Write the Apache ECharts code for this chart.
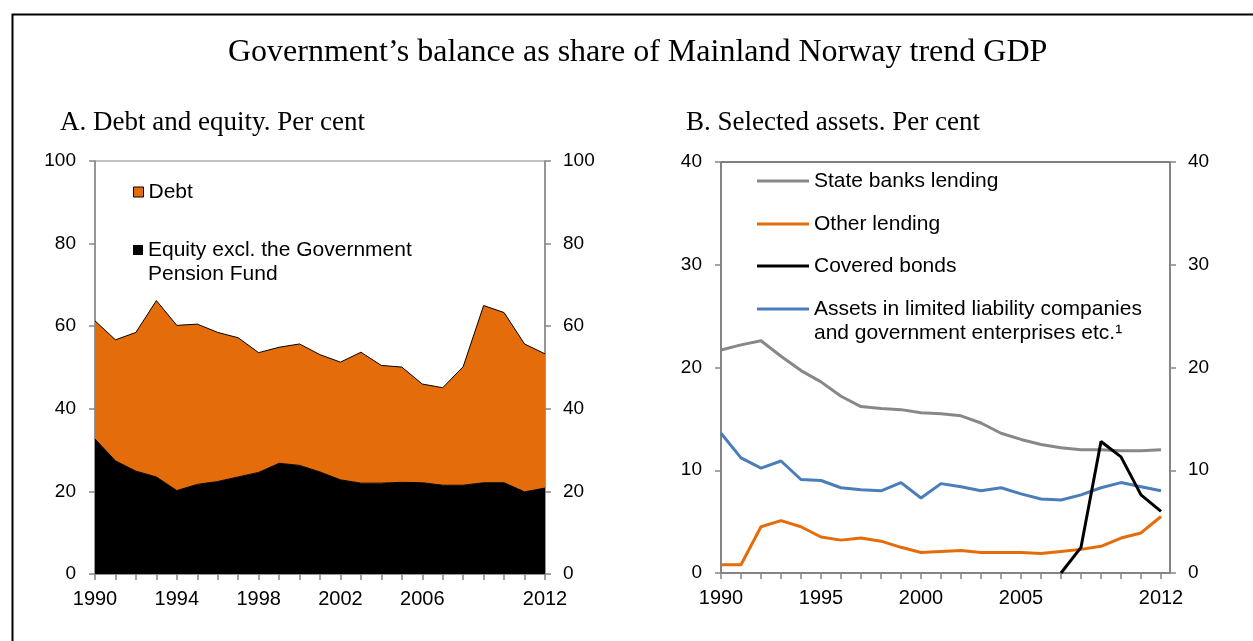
<!DOCTYPE html>
<html>
<head>
<meta charset="utf-8">
<title>Government's balance</title>
<script src="https://cdn.jsdelivr.net/npm/echarts@6/dist/echarts.min.js"></script>
<style>
html,body{margin:0;padding:0;background:#fff;}
#main{width:1253px;height:641px;}
</style>
</head>
<body>
<div id="main"></div>
<script>
// years on both panels
var years = [1990,1991,1992,1993,1994,1995,1996,1997,1998,1999,2000,2001,2002,2003,2004,2005,2006,2007,2008,2009,2010,2011,2012];

// panel A - debt and equity, per cent
var equity = [32.7,27.4,24.9,23.5,20.2,21.7,22.4,23.5,24.6,26.8,26.3,24.7,22.8,22.0,22.0,22.2,22.1,21.5,21.5,22.1,22.1,19.9,20.8];
var debt   = [28.6,29.3,33.6,42.7,40.0,38.8,36.1,33.7,29.0,28.1,29.4,28.4,28.5,31.7,28.5,27.9,23.9,23.6,28.7,42.9,41.2,35.8,32.5];
var labelsA = ['1990','1994','1998','2002','2006','2012'];

// panel B - selected assets, per cent
var stateBanks = [21.7,22.2,22.6,21.1,19.7,18.6,17.2,16.2,16.0,15.9,15.6,15.5,15.3,14.6,13.6,13.0,12.5,12.2,12.0,12.0,11.9,11.9,12.0];
var otherLending = [0.8,0.8,4.5,5.1,4.5,3.5,3.2,3.4,3.1,2.5,2.0,2.1,2.2,2.0,2.0,2.0,1.9,2.1,2.3,2.6,3.4,3.9,5.5];
var coveredBonds = [null,null,null,null,null,null,null,null,null,null,null,null,null,null,null,null,null,0,2.5,12.8,11.3,7.6,6.0];
var assetsLtd = [13.6,11.2,10.2,10.9,9.1,9.0,8.3,8.1,8.0,8.8,7.3,8.7,8.4,8.0,8.3,7.7,7.2,7.1,7.6,8.3,8.8,8.4,8.0];
var labelsB = [1990,1995,2000,2005,2012];

function pairs(arr){
	var out=[];
	for(var i=0;i<years.length;i++){
		if(arr[i]!==null) out.push([years[i],arr[i]]);
	}
	return out;
}

var sans = 'Liberation Sans, Arial, sans-serif';
var serif = 'Liberation Serif, Times New Roman, serif';
var axisGrey = '#868686';

function yAx(grid,pos,max,interval){
	return {
		type:'value', gridIndex:grid, position:pos, min:0, max:max, interval:interval,
		splitLine:{show:false},
		axisLine:{show:true,lineStyle:{color:axisGrey,width:1.5}},
		axisTick:{show:true,length:6,lineStyle:{color:axisGrey,width:1.5}},
		axisLabel:{color:'#000',fontSize:19,fontFamily:sans,margin:pos=='left'?19:18}
	};
}

// two-line legend entries: blank line on top so the icon sits on the first text line
var legendText = {fontFamily:sans,fontSize:21,color:'#000'};
var legendText2 = {fontFamily:sans,fontSize:21,color:'#000',lineHeight:24};

var myChart = echarts.init(document.getElementById('main'));
var option = {
	animation:false,
	backgroundColor:'#fff',
	graphic:[{
		type:'rect', left:10, top:12, silent:true,
		shape:{width:1300,height:700},
		style:{fill:'none',stroke:'#000',lineWidth:2}
	}],
	title:[
		{text:'Government\u2019s balance as share of Mainland Norway trend GDP', left:228, top:37, padding:0,
		 textStyle:{fontFamily:serif,fontSize:32,fontWeight:'normal',color:'#000'}},
		{text:'A. Debt and equity. Per cent', left:60, top:109, padding:0,
		 textStyle:{fontFamily:serif,fontSize:27,fontWeight:'normal',color:'#000'}},
		{text:'B. Selected assets. Per cent', left:686, top:109, padding:0,
		 textStyle:{fontFamily:serif,fontSize:27,fontWeight:'normal',color:'#000'}}
	],
	legend:[
		{data:['Debt'], left:133, top:181.5, padding:0, icon:'rect', itemWidth:10, itemHeight:10,
		 itemStyle:{borderColor:'#000',borderWidth:1}, textStyle:legendText},
		{data:['Equity excl. the Government\nPension Fund'], left:133, top:214, padding:0, icon:'rect', itemWidth:10, itemHeight:10,
		 formatter:'\n{name}', textStyle:legendText2},
		{data:['State banks lending'], left:757, top:170.5, padding:0, icon:'rect', itemWidth:52, itemHeight:3,
		 textStyle:legendText},
		{data:['Other lending'], left:757, top:213.5, padding:0, icon:'rect', itemWidth:52, itemHeight:3,
		 textStyle:legendText},
		{data:['Covered bonds'], left:757, top:255.5, padding:0, icon:'rect', itemWidth:52, itemHeight:3,
		 textStyle:legendText},
		{data:['Assets in limited liability companies\nand government enterprises etc.\u00b9'], left:757, top:273, padding:0, icon:'rect', itemWidth:52, itemHeight:3,
		 formatter:'\n{name}', textStyle:legendText2}
	],
	grid:[
		{left:95, right:708, top:161, bottom:67, show:true, borderColor:axisGrey, borderWidth:1, outerBoundsMode:'none'},
		{left:721, right:83, top:162, bottom:68, show:true, borderColor:'#000', borderWidth:1, outerBoundsMode:'none'}
	],
	xAxis:[
		{
			type:'category', gridIndex:0, boundaryGap:false,
			data:years.map(String),
			axisLine:{lineStyle:{color:axisGrey,width:1.5}},
			axisTick:{show:true,interval:0,length:6,lineStyle:{color:axisGrey,width:1.5}},
			axisLabel:{color:'#000',fontSize:20,fontFamily:sans,margin:15,
				interval:function(i,v){return labelsA.indexOf(v)>=0;}},
			splitLine:{show:false}
		},
		{
			type:'value', gridIndex:1, min:1990, max:2012.45, interval:1,
			axisLine:{lineStyle:{color:axisGrey,width:1.5}},
			axisTick:{show:true,length:6,lineStyle:{color:axisGrey,width:1.5}},
			axisLabel:{color:'#000',fontSize:20,fontFamily:sans,margin:15,showMinLabel:true,showMaxLabel:false,
				formatter:function(v){return labelsB.indexOf(v)>=0?String(v):'';}},
			splitLine:{show:false}
		}
	],
	yAxis:[
		yAx(0,'left',100,20), yAx(0,'right',100,20),
		yAx(1,'left',40,10), yAx(1,'right',40,10)
	],
	series:[
		{name:'Equity excl. the Government\nPension Fund', type:'line', stack:'A', xAxisIndex:0, yAxisIndex:0,
		 data:equity, symbol:'none', itemStyle:{color:'#000'}, lineStyle:{color:'#000',width:1},
		 areaStyle:{color:'#000',opacity:1}},
		{name:'Debt', type:'line', stack:'A', xAxisIndex:0, yAxisIndex:0,
		 data:debt, symbol:'none', itemStyle:{color:'#E46C0A'}, lineStyle:{color:'#000',width:1},
		 areaStyle:{color:'#E46C0A',opacity:1}},
		{name:'State banks lending', type:'line', xAxisIndex:1, yAxisIndex:2, data:pairs(stateBanks),
		 symbol:'none', itemStyle:{color:'#888888'}, lineStyle:{color:'#888888',width:3}},
		{name:'Other lending', type:'line', xAxisIndex:1, yAxisIndex:2, data:pairs(otherLending),
		 symbol:'none', itemStyle:{color:'#E46C0A'}, lineStyle:{color:'#E46C0A',width:3}},
		{name:'Assets in limited liability companies\nand government enterprises etc.\u00b9', type:'line', xAxisIndex:1, yAxisIndex:2, data:pairs(assetsLtd),
		 symbol:'none', itemStyle:{color:'#4A7EBB'}, lineStyle:{color:'#4A7EBB',width:3}},
		{name:'Covered bonds', type:'line', xAxisIndex:1, yAxisIndex:2, data:pairs(coveredBonds),
		 symbol:'none', itemStyle:{color:'#000'}, lineStyle:{color:'#000',width:3}}
	]
};
myChart.setOption(option);
</script>
</body>
</html>
